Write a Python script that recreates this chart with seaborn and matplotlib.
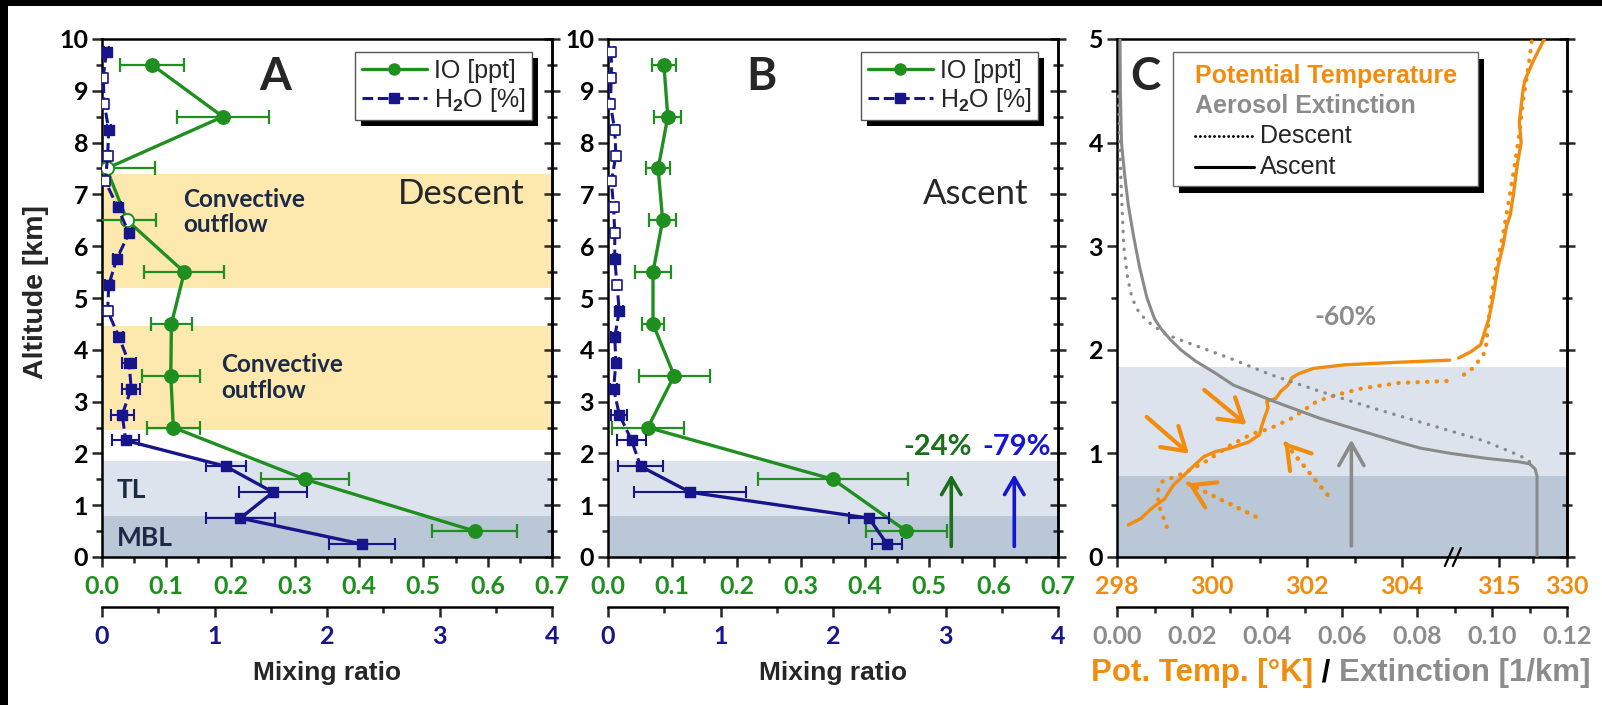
import numpy as np
import matplotlib
matplotlib.use("Agg")
import matplotlib.pyplot as plt
import seaborn as sns
from matplotlib.lines import Line2D
from matplotlib.patches import Rectangle
from matplotlib.ticker import MultipleLocator, FixedLocator, FormatStrFormatter

# ---------------------------------------------------------------- data
# altitude bins [km]
io_alt = [9.5, 8.5, 7.5, 6.5, 5.5, 4.5, 3.5, 2.5, 1.5, 0.5]
h2o_alt = [9.75, 9.25, 8.75, 8.25, 7.75, 7.25, 6.75, 6.25, 5.75, 5.25,
           4.75, 4.25, 3.75, 3.25, 2.75, 2.25, 1.75, 1.25, 0.75, 0.25]

# panel A - descent
io_desc = [0.078, 0.188, 0.007, 0.039, 0.128, 0.108, 0.107, 0.111, 0.316, 0.580]
io_desc_err = [0.050, 0.071, 0.075, 0.045, 0.062, 0.032, 0.045, 0.041, 0.068, 0.066]
io_desc_open = [False, False, True, True, False, False, False, False, False, False]
h2o_desc = [0.04, 0.01, 0.02, 0.06, 0.05, 0.03, 0.14, 0.24, 0.13, 0.06,
            0.05, 0.15, 0.24, 0.26, 0.18, 0.21, 1.10, 1.52, 1.23, 2.31]
h2o_desc_err = [0.02, 0.02, 0.02, 0.02, 0.02, 0.02, 0.03, 0.03, 0.03, 0.03,
                0.02, 0.04, 0.06, 0.08, 0.10, 0.12, 0.18, 0.30, 0.31, 0.29]
h2o_desc_open = [False, True, True, False, True, True, False, False, False, False,
                 True, False, False, False, False, False, False, False, False, False]

# panel B - ascent
io_asc = [0.087, 0.093, 0.078, 0.085, 0.070, 0.070, 0.103, 0.062, 0.350, 0.464]
io_asc_err = [0.019, 0.021, 0.019, 0.021, 0.028, 0.017, 0.055, 0.056, 0.116, 0.063]
h2o_asc = [0.03, 0.03, 0.02, 0.06, 0.07, 0.03, 0.05, 0.06, 0.06, 0.08,
           0.10, 0.06, 0.07, 0.05, 0.10, 0.21, 0.29, 0.73, 2.32, 2.48]
h2o_asc_err = [0.02, 0.02, 0.02, 0.02, 0.02, 0.02, 0.02, 0.02, 0.02, 0.02,
               0.03, 0.03, 0.03, 0.03, 0.07, 0.13, 0.20, 0.50, 0.18, 0.13]
h2o_asc_open = [True, True, True, True, True, True, True, True, False, True,
                False, False, False, False, False, False, False, False, False, False]

# relative change labels in panel B
change_labels = ["-24%", "-79%"]
change_x = [0.534, 0.632]          # on the IO axis
change_alt = [0.15, 1.65, 2.13]    # arrow base, arrow tip, label

# layer limits [km]
mbl_top = 0.8
tl_top = 1.85
outflow_layers = [(2.45, 4.45), (5.2, 7.4)]

# panel C - potential temperature [K]
pt_asc_alt = [0.31, 0.37, 0.47, 0.56, 0.69, 0.79, 0.89, 0.97, 1.02, 1.05, 1.11, 1.18,
              1.24, 1.34, 1.44, 1.50, 1.53, 1.60, 1.66, 1.73, 1.77, 1.82, 1.855, 1.88,
              1.90, 1.92, 1.98, 2.05, 2.3, 2.5, 2.8, 3.0, 3.2, 3.3, 3.5, 3.8, 4.0, 4.2,
              4.5, 4.6, 4.8, 5.0]
pt_asc = [298.24, 298.5, 298.73, 299.0, 299.18, 299.41, 299.64, 299.83, 300.09, 300.39,
          300.77, 301.0, 301.03, 301.1, 301.18, 301.15, 301.34, 301.45, 301.6, 301.68,
          301.83, 302.13, 302.8, 303.94, 305.0, 306.1, 308.8, 311.0, 312.8, 313.7,
          314.8, 315.9, 316.7, 317.5, 318.2, 319.1, 319.9, 319.5, 320.3, 320.7, 322.7, 325.0]
pt_desc_alt = [0.29, 0.40, 0.50, 0.63, 0.73, 0.81, 0.92, 1.08, 1.19, 1.24, 1.34, 1.50,
               1.56, 1.63, 1.68, 1.70, 1.76, 1.82, 1.95, 2.08, 2.15, 2.47, 2.79, 3.11,
               3.44, 3.76, 4.08, 4.4, 4.73, 5.0]
pt_desc = [299.05, 298.96, 298.88, 298.85, 298.96, 299.41, 299.86, 300.39, 300.85, 301.22,
           301.68, 302.2, 302.58, 303.18, 303.94, 305.0, 307.3, 309.2, 311.6, 312.4,
           312.4, 313.2, 314.4, 315.9, 317.2, 318.4, 319.5, 320.3, 321.5, 322.3]

# panel C - aerosol extinction [1/km]
ext_asc_alt = [0.0, 0.5, 0.78, 0.85, 0.9, 0.92, 0.95, 1.0, 1.05, 1.11, 1.24, 1.34, 1.5,
               1.66, 1.78, 1.89, 2.0, 2.1, 2.2, 2.3, 2.5, 2.8, 3.1, 3.4, 3.7, 4.0, 4.5, 5.0]
ext_asc = [0.112, 0.112, 0.112, 0.1115, 0.110, 0.107, 0.099, 0.089, 0.081, 0.075, 0.063,
           0.054, 0.042, 0.031, 0.026, 0.0210, 0.0170, 0.0142, 0.0118, 0.0100, 0.0080,
           0.0060, 0.0044, 0.0030, 0.0020, 0.0012, 0.0009, 0.0008]
ext_desc_alt = [0.92, 0.95, 1.0, 1.12, 1.28, 1.44, 1.6, 1.76, 1.92, 2.0, 2.08, 2.15,
                2.25, 2.35, 2.5, 2.7, 3.0, 3.5, 4.0, 4.5]
ext_desc = [0.110, 0.109, 0.106, 0.098, 0.083, 0.068, 0.054, 0.041, 0.030, 0.024, 0.018,
            0.013, 0.009, 0.006, 0.004, 0.0028, 0.0018, 0.0012, 0.0007, 0.0004]
ext_change_label = "-60%"
ext_change_pos = (0.061, 2.32)

# pointer arrows in panel C: (tail, head) in (K, km)
pt_arrows_solid = [((299.79, 1.63), (300.77, 1.26)), ((298.58, 1.37), (299.56, 0.98))]
pt_arrows_dotted = [((300.92, 0.39), (299.49, 0.71)), ((302.43, 0.60), (301.52, 1.11))]
ext_arrow = ((0.0625, 0.08), (0.0625, 1.16))

# ---------------------------------------------------------------- style
GREEN = "#1f8f1f"
DKGREEN = "#1b6e1b"
NAVY = "#16168a"
BLUE = "#1414d2"
ORANGE = "#f28c0f"
GRAY = "#8a8a8a"
LGRAY = "#8c8c8c"
TEXTNAVY = "#1c2a48"
BAND_ORANGE = "#fde9ae"
BAND_TL = "#dde3ec"
BAND_MBL = "#bac7d7"

CAL = ["Lato", "DejaVu Sans"]
ARI = ["Liberation Sans", "DejaVu Sans"]

sns.set_theme(style="ticks")
plt.rcParams["font.family"] = CAL
plt.rcParams["font.weight"] = "bold"
plt.rcParams["mathtext.fontset"] = "custom"
plt.rcParams["mathtext.rm"] = "Liberation Sans"
plt.rcParams["axes.linewidth"] = 1.8
plt.rcParams["axes.edgecolor"] = "black"

W, H = 1602, 705
fig = plt.figure(figsize=(W / 100, H / 100), dpi=100, facecolor="white")

# dark frame strips along top and left edges
fig.patches.append(Rectangle((0, 1 - 6 / H), 1, 6 / H, transform=fig.transFigure,
                             facecolor="black", edgecolor="none", zorder=-10))
fig.patches.append(Rectangle((0, 0), 8 / W, 1, transform=fig.transFigure,
                             facecolor="black", edgecolor="none", zorder=-10))

AX_B = (H - 557) / H
AX_H = 518 / H
TICK_FS = 18
OUT_PTS = 36


def fig_rect(x0, w):
    return [x0 / W, AX_B, w / W, AX_H]


def style_yaxis(ax, top, minor):
    ax.set_ylim(0, top)
    ax.yaxis.set_major_locator(MultipleLocator(1))
    ax.yaxis.set_minor_locator(MultipleLocator(minor))
    ax.tick_params(axis="y", which="both", direction="out", left=True, right=False,
                   width=1.8, labelsize=TICK_FS, pad=3, labelcolor="black")
    ax.tick_params(axis="y", which="major", length=7)
    ax.tick_params(axis="y", which="minor", length=4)
    sec = ax.secondary_yaxis("right")
    sec.yaxis.set_major_locator(MultipleLocator(1))
    sec.yaxis.set_minor_locator(MultipleLocator(minor))
    sec.tick_params(which="both", direction="inout", labelright=False, width=1.8)
    sec.tick_params(which="major", length=11)
    sec.tick_params(which="minor", length=7)
    sec.spines["right"].set_linewidth(1.8)


def style_bottom(axis_obj, color):
    axis_obj.tick_params(axis="x", which="both", direction="out", bottom=True, top=False,
                         width=1.8, labelsize=TICK_FS, pad=6, labelcolor=color)
    axis_obj.tick_params(axis="x", which="major", length=7)
    axis_obj.tick_params(axis="x", which="minor", length=4)


def make_twin(ax, color):
    tw = ax.twiny()
    tw.xaxis.set_ticks_position("bottom")
    tw.xaxis.set_label_position("bottom")
    for s in ("top", "left", "right"):
        tw.spines[s].set_visible(False)
    tw.spines["bottom"].set_visible(True)
    tw.spines["bottom"].set_position(("outward", OUT_PTS))
    tw.spines["bottom"].set_linewidth(1.8)
    style_bottom(tw, color)
    return tw


def add_shadow(host, leg, dx=6, dy=6):
    fig.canvas.draw()
    bb = leg.get_frame().get_window_extent()
    inv = host.transAxes.inverted()
    (x0, y0), (x1, y1) = inv.transform([[bb.x0 + dx, bb.y0 - dy], [bb.x1 + dx, bb.y1 - dy]])
    host.add_patch(Rectangle((x0, y0), x1 - x0, y1 - y0, transform=host.transAxes,
                             facecolor="black", edgecolor="none", zorder=4.5, clip_on=False))


def mixing_panel(x0, io_x, io_e, io_open, h_x, h_e, h_open, n_dash, bands):
    ax = fig.add_axes(fig_rect(x0, 450))
    ax.set_facecolor("white")
    ax.axhspan(0, mbl_top, color=BAND_MBL, lw=0, zorder=0)
    ax.axhspan(mbl_top, tl_top, color=BAND_TL, lw=0, zorder=0)
    if bands:
        for lo, hi in outflow_layers:
            ax.axhspan(lo, hi, color=BAND_ORANGE, lw=0, zorder=0)

    # IO profile (green, primary x axis)
    sns.lineplot(x=io_x, y=io_alt, sort=False, estimator=None, color=GREEN, lw=2.4,
                 ax=ax, zorder=3)
    ax.errorbar(io_x, io_alt, xerr=io_e, fmt="none", ecolor=GREEN, elinewidth=1.6,
                capsize=5, capthick=1.6, zorder=3)
    io_x_arr, io_alt_arr, io_open_arr = np.array(io_x), np.array(io_alt), np.array(io_open)
    sns.scatterplot(x=io_x_arr[~io_open_arr], y=io_alt_arr[~io_open_arr], marker="o",
                    s=90, color=GREEN, edgecolor=GREEN, linewidth=1.2, ax=ax, zorder=4)
    if io_open_arr.any():
        sns.scatterplot(x=io_x_arr[io_open_arr], y=io_alt_arr[io_open_arr], marker="o",
                        s=90, color="white", edgecolor=GREEN, linewidth=1.4, ax=ax, zorder=4)
    ax.set_xlim(0, 0.7)
    ax.xaxis.set_major_locator(MultipleLocator(0.1))
    ax.xaxis.set_minor_locator(MultipleLocator(0.05))
    ax.xaxis.set_major_formatter(FormatStrFormatter("%.1f"))
    style_bottom(ax, GREEN)
    style_yaxis(ax, 10, 0.5)
    ax.set_xlabel("")
    ax.set_ylabel("")

    # H2O profile (blue, secondary x axis)
    tw = make_twin(ax, NAVY)
    h_x_arr, h_alt_arr, h_open_arr = np.array(h_x), np.array(h2o_alt), np.array(h_open)
    sns.lineplot(x=h_x_arr[:n_dash + 1], y=h_alt_arr[:n_dash + 1], sort=False,
                 estimator=None, color=NAVY, lw=2.2, linestyle=(0, (3.5, 1.5)), ax=tw,
                 zorder=3)
    sns.lineplot(x=h_x_arr[n_dash:], y=h_alt_arr[n_dash:], sort=False, estimator=None,
                 color=NAVY, lw=2.4, ax=tw, zorder=3)
    tw.errorbar(h_x, h2o_alt, xerr=h_e, fmt="none", ecolor=NAVY, elinewidth=1.5,
                capsize=4, capthick=1.5, zorder=3)
    sns.scatterplot(x=h_x_arr[~h_open_arr], y=h_alt_arr[~h_open_arr], marker="s", s=60,
                    color=NAVY, edgecolor=NAVY, linewidth=1, ax=tw, zorder=4)
    sns.scatterplot(x=h_x_arr[h_open_arr], y=h_alt_arr[h_open_arr], marker="s", s=45,
                    color="white", edgecolor=NAVY, linewidth=1.2, ax=tw, zorder=4)
    tw.set_xlim(0, 4)
    tw.set_ylim(0, 10)
    tw.xaxis.set_major_locator(MultipleLocator(1))
    tw.xaxis.set_minor_locator(MultipleLocator(0.5))
    tw.set_xlabel("")
    tw.set_ylabel("")

    handles = [Line2D([], [], color=GREEN, lw=2.4, marker="o", ms=8),
               Line2D([], [], color=NAVY, lw=2.2, ls=(0, (3.5, 1.5)), marker="s", ms=7)]
    leg = tw.legend(handles, ["IO [ppt]", "H$_{\\mathrm{2}}$O [%]"], loc="upper right",
                    bbox_to_anchor=(0.955, 0.974), borderaxespad=0, fancybox=False,
                    framealpha=1, edgecolor="#555555", handlelength=2.6,
                    handletextpad=0.3, borderpad=0.25, labelspacing=0.12,
                    prop={"family": ARI, "size": 18, "weight": "normal"})
    leg.get_frame().set_linewidth(1.0)
    add_shadow(tw, leg)

    fig.text((x0 + 225) / W, 1 - 673 / H, "Mixing ratio", ha="center", va="center",
             fontsize=19, fontweight="bold", family=ARI)
    return ax, tw


# ---------------------------------------------------------------- panel A
axA, twA = mixing_panel(102, io_desc, io_desc_err, io_desc_open, h2o_desc, h2o_desc_err,
                        h2o_desc_open, 15, True)
ytr = axA.get_yaxis_transform()
axA.text(0.385, 0.926, "A", transform=axA.transAxes, ha="center", va="center",
         fontsize=33, fontweight="bold")
axA.text(0.94, 7.0, "Descent", transform=ytr, ha="right", va="center", fontsize=25,
         fontweight="normal")
axA.text(0.18, 6.66, "Convective\noutflow", transform=ytr, ha="left", va="center",
         fontsize=17.5, color=TEXTNAVY, linespacing=1.15)
axA.text(0.264, 3.47, "Convective\noutflow", transform=ytr, ha="left", va="center",
         fontsize=17.5, color=TEXTNAVY, linespacing=1.15)
axA.text(0.032, 1.30, "TL", transform=ytr, ha="left", va="center", fontsize=19,
         color=TEXTNAVY)
axA.text(0.032, 0.36, "MBL", transform=ytr, ha="left", va="center", fontsize=19,
         color=TEXTNAVY)

# ---------------------------------------------------------------- panel B
axB, twB = mixing_panel(608, io_asc, io_asc_err, [False] * len(io_asc), h2o_asc,
                        h2o_asc_err, h2o_asc_open, 16, False)
ytr = axB.get_yaxis_transform()
axB.text(0.34, 0.926, "B", transform=axB.transAxes, ha="center", va="center",
         fontsize=33, fontweight="bold")
axB.text(0.935, 7.0, "Ascent", transform=ytr, ha="right", va="center", fontsize=25,
         fontweight="normal")
for lab, xv, col in zip(change_labels, change_x, [DKGREEN, BLUE]):
    axB.annotate("", xy=(xv, change_alt[1]), xytext=(xv, change_alt[0]),
                 arrowprops=dict(arrowstyle="->,head_length=0.6,head_width=0.35",
                                 color=col, lw=2.6, mutation_scale=20), zorder=6)
axB.text(change_x[0] - 0.022, change_alt[2], change_labels[0], ha="center", va="center",
         fontsize=21, color=DKGREEN, zorder=6)
axB.text(change_x[1] + 0.004, change_alt[2], change_labels[1], ha="center", va="center",
         fontsize=21, color=BLUE, zorder=6)

fig.text(36 / W, 1 - 292 / H, "Altitude [km]", rotation=90, ha="center", va="center",
         fontsize=20.5, fontweight="bold", family=ARI)

# ---------------------------------------------------------------- panel C
PT_BREAK = 305.09
S1 = 0.10558           # axis fraction per K below the break
S2 = 0.010093          # axis fraction per K above the break
F_BREAK = (PT_BREAK - 298) * S1


def pt_forward(x):
    x = np.asarray(x, dtype=float)
    return np.where(x <= PT_BREAK, (x - 298) * S1, F_BREAK + (x - PT_BREAK) * S2)


def pt_inverse(f):
    f = np.asarray(f, dtype=float)
    return np.where(f <= F_BREAK, 298 + f / S1, PT_BREAK + (f - F_BREAK) / S2)


axC = fig.add_axes(fig_rect(1117, 450))
axC.set_facecolor("white")
axC.axhspan(0, 0.78, color=BAND_MBL, lw=0, zorder=0)
axC.axhspan(0.78, 1.83, color=BAND_TL, lw=0, zorder=0)
axC.set_xscale("function", functions=(pt_forward, pt_inverse))


def draw_split(ax, xs, ys, **kw):
    xs, ys = np.array(xs), np.array(ys)
    low = xs <= PT_BREAK + 1e-9
    for mask in (low, ~low):
        if mask.sum() > 1:
            sns.lineplot(x=xs[mask], y=ys[mask], sort=False, estimator=None, ax=ax, **kw)


draw_split(axC, pt_asc, pt_asc_alt, color=ORANGE, lw=2.4, zorder=3)
draw_split(axC, pt_desc, pt_desc_alt, color=ORANGE, lw=3.0, zorder=3,
           linestyle=(0, (0.1, 2.2)), dash_capstyle="round")

for (tx, ty), (hx, hy) in pt_arrows_solid:
    axC.annotate("", xy=(hx, hy), xytext=(tx, ty),
                 arrowprops=dict(arrowstyle="->,head_length=0.8,head_width=0.5",
                                 color=ORANGE, lw=3.0, mutation_scale=20), zorder=5)
for (tx, ty), (hx, hy) in pt_arrows_dotted:
    axC.plot([tx, hx], [ty, hy], color=ORANGE, lw=3.2, linestyle=(0, (0.1, 2.0)),
             dash_capstyle="round", zorder=5)
    axC.annotate("", xy=(hx, hy), xytext=(hx + 0.03 * (tx - hx), hy + 0.03 * (ty - hy)),
                 arrowprops=dict(arrowstyle="->,head_length=0.8,head_width=0.5",
                                 color=ORANGE, lw=3.0, mutation_scale=20), zorder=5)

axC.set_xlim(298, 330)
axC.xaxis.set_major_locator(FixedLocator([298, 300, 302, 304, 315, 330]))
axC.xaxis.set_minor_locator(FixedLocator([299, 301, 303, 322.5]))
axC.xaxis.set_major_formatter(FormatStrFormatter("%d"))
style_bottom(axC, ORANGE)
style_yaxis(axC, 5, 0.5)
axC.set_xlabel("")
axC.set_ylabel("")

# axis break marks on the temperature scale
fb = float(pt_forward(PT_BREAK))
for off in (-5, 3):
    axC.plot([fb + (off - 4) / 450, fb + (off + 4) / 450], [-9 / 518, 9 / 518],
             transform=axC.transAxes, color="black", lw=1.6, clip_on=False, zorder=7)

twC = make_twin(axC, LGRAY)
sns.lineplot(x=ext_asc, y=ext_asc_alt, sort=False, estimator=None, color=GRAY, lw=2.2,
             ax=twC, zorder=2)
sns.lineplot(x=ext_desc, y=ext_desc_alt, sort=False, estimator=None, color=GRAY, lw=2.4,
             linestyle=(0, (0.1, 2.6)), dash_capstyle="round", ax=twC, zorder=2)
twC.annotate("", xy=ext_arrow[1], xytext=ext_arrow[0],
             arrowprops=dict(arrowstyle="->,head_length=0.8,head_width=0.45",
                             color=GRAY, lw=2.6, mutation_scale=20), zorder=5)
twC.text(ext_change_pos[0], ext_change_pos[1], ext_change_label, ha="center",
         va="center", fontsize=19, color=LGRAY)
twC.set_xlim(0, 0.12)
twC.set_ylim(0, 5)
twC.xaxis.set_major_locator(MultipleLocator(0.02))
twC.xaxis.set_minor_locator(MultipleLocator(0.01))
twC.xaxis.set_major_formatter(FormatStrFormatter("%.2f"))
twC.set_xlabel("")
twC.set_ylabel("")

axC.text(0.063, 0.926, "C", transform=axC.transAxes, ha="center", va="center",
         fontsize=33, fontweight="bold")

# legend box for panel C
lx0, ly0, lx1, ly1 = 0.125, 0.716, 0.802, 0.974
twC.add_patch(Rectangle((lx0 + 6 / 450, ly0 - 7 / 518), lx1 - lx0, ly1 - ly0,
                        transform=twC.transAxes, facecolor="black", edgecolor="none",
                        zorder=8, clip_on=False))
twC.add_patch(Rectangle((lx0, ly0), lx1 - lx0, ly1 - ly0, transform=twC.transAxes,
                        facecolor="white", edgecolor="#666666", lw=1.0, zorder=9,
                        clip_on=False))
twC.text(0.173, 0.929, "Potential Temperature", transform=twC.transAxes, ha="left",
         va="center", fontsize=18, color=ORANGE, family=ARI, zorder=10)
twC.text(0.173, 0.871, "Aerosol Extinction", transform=twC.transAxes, ha="left",
         va="center", fontsize=18, color=LGRAY, family=ARI, zorder=10)
twC.plot([0.173, 0.304], [0.812, 0.812], transform=twC.transAxes, color="black", lw=2.0,
         linestyle=(0, (0.1, 1.6)), dash_capstyle="round", zorder=10)
twC.plot([0.173, 0.304], [0.752, 0.752], transform=twC.transAxes, color="black", lw=2.2,
         zorder=10)
twC.text(0.318, 0.812, "Descent", transform=twC.transAxes, ha="left", va="center",
         fontsize=18, fontweight="normal", family=ARI, zorder=10)
twC.text(0.318, 0.752, "Ascent", transform=twC.transAxes, ha="left", va="center",
         fontsize=18, fontweight="normal", family=ARI, zorder=10)

# two-coloured axis title under panel C
t1 = fig.text(1091 / W, 1 - 673 / H, "Pot. Temp. [°K]", ha="left", va="center",
              fontsize=22.5, fontweight="bold", family=ARI, color=ORANGE)
t2 = axC.annotate(" / ", xy=(1, 0), xycoords=t1, ha="left", va="bottom", fontsize=22.5,
                  fontweight="bold", family=ARI, color="black", annotation_clip=False)
t3 = axC.annotate("Extinction [1/km]", xy=(1, 0), xycoords=t2, ha="left", va="bottom",
                  fontsize=22.5, fontweight="bold", family=ARI, color=LGRAY,
                  annotation_clip=False)

fig.savefig("out.png", dpi=100, facecolor="white")
